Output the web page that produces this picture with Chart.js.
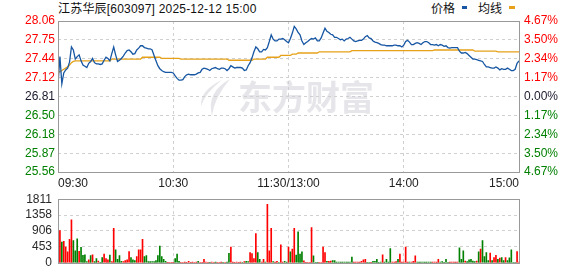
<!DOCTYPE html>
<html><head><meta charset="utf-8">
<script src="https://cdn.jsdelivr.net/npm/chart.js@4.4.1/dist/chart.umd.min.js"></script>
<style>
html,body{margin:0;padding:0;background:#fff;}
#wrap{position:relative;width:578px;height:276px;overflow:hidden;background:#fff;}
canvas{position:absolute;left:0;}
.t{position:absolute;font-size:12px;line-height:14px;font-family:'Liberation Sans','Noto Sans CJK SC',sans-serif;color:#111;white-space:nowrap;}
.m{position:absolute;height:3px;}
</style></head>
<body><div id="wrap">
<div class="t" style="left:58px;top:2px;letter-spacing:0.2px;">江苏华辰[603097] 2025-12-12 15:00</div>
<div class="t" style="left:431px;top:2px;">价格</div>
<div class="m" style="left:462px;top:6px;width:5px;background:#1656a3;"></div>
<div class="t" style="left:478px;top:2px;">均线</div>
<div class="m" style="left:509px;top:6px;width:6px;background:#e6a118;"></div>
<canvas id="pc" width="578" height="192" style="top:0"></canvas>
<canvas id="vc" width="578" height="90" style="top:186px"></canvas>
</div>
<script>
const timeTicks = ['09:30','10:30','11:30/13:00','14:00','15:00'];
const timeTickPos = [0,60,120,180,240];
const priceTicks = ['25.56','25.87','26.18','26.50','26.81','27.12','27.44','27.75','28.06'];
const pctTicks = ['4.67%','3.50%','2.34%','1.17%','0.00%','1.17%','2.34%','3.50%','4.67%'];
const volTicks = ['0','453','906','1358','1811'];
const prevClose = 26.81;

const price = [
27.00,27.47,27.02,27.20,27.25,27.28,27.38,27.63,27.58,27.43,
27.47,27.50,27.40,27.33,27.31,27.29,27.36,27.39,27.44,27.37,
27.35,27.35,27.34,27.35,27.41,27.46,27.44,27.40,27.52,27.63,
27.50,27.39,27.41,27.44,27.48,27.53,27.57,27.58,27.55,27.51,
27.52,27.58,27.61,27.65,27.65,27.62,27.61,27.60,27.60,27.58,
27.49,27.40,27.32,27.27,27.24,27.22,27.21,27.21,27.21,27.21,
27.20,27.15,27.11,27.08,27.08,27.09,27.14,27.17,27.18,27.17,
27.17,27.17,27.18,27.20,27.21,27.26,27.28,27.27,27.26,27.24,
27.27,27.28,27.29,27.27,27.26,27.28,27.28,27.27,27.24,27.27,
27.32,27.30,27.28,27.29,27.29,27.29,27.28,27.24,27.25,27.32,
27.37,27.45,27.55,27.63,27.60,27.55,27.55,27.59,27.58,27.62,
27.72,27.83,27.76,27.73,27.73,27.76,27.76,27.77,27.75,27.72,
27.70,27.77,27.86,27.97,27.93,27.87,27.83,27.73,27.67,27.70,
27.72,27.75,27.77,27.76,27.78,27.73,27.73,27.78,27.86,27.94,
27.89,27.87,27.84,27.83,27.79,27.79,27.77,27.75,27.76,27.73,
27.76,27.77,27.79,27.76,27.73,27.72,27.73,27.74,27.74,27.76,
27.80,27.82,27.78,27.77,27.73,27.71,27.70,27.69,27.67,27.66,
27.66,27.65,27.65,27.65,27.65,27.66,27.66,27.65,27.65,27.63,
27.66,27.72,27.74,27.71,27.67,27.67,27.69,27.70,27.69,27.67,
27.70,27.72,27.72,27.70,27.67,27.67,27.66,27.67,27.65,27.67,
27.66,27.64,27.65,27.62,27.61,27.62,27.62,27.62,27.62,27.56,
27.53,27.53,27.54,27.52,27.49,27.46,27.43,27.43,27.42,27.41,
27.40,27.39,27.34,27.30,27.30,27.29,27.28,27.28,27.30,27.28,
27.25,27.27,27.26,27.26,27.28,27.26,27.24,27.24,27.26,27.36,
27.40];

const avgPrice = [
27.22,27.22,27.24,27.26,27.28,27.30,27.33,27.37,27.39,27.40,
27.40,27.40,27.40,27.40,27.40,27.40,27.40,27.40,27.40,27.40,
27.40,27.40,27.40,27.40,27.40,27.40,27.40,27.40,27.43,27.43,
27.43,27.43,27.43,27.43,27.43,27.43,27.43,27.43,27.43,27.43,
27.43,27.43,27.43,27.43,27.46,27.46,27.46,27.46,27.46,27.46,
27.46,27.46,27.46,27.46,27.44,27.44,27.44,27.44,27.44,27.44,
27.44,27.44,27.44,27.44,27.43,27.43,27.43,27.43,27.43,27.43,
27.43,27.43,27.43,27.43,27.43,27.43,27.43,27.43,27.43,27.43,
27.43,27.43,27.43,27.43,27.43,27.43,27.43,27.43,27.43,27.41,
27.41,27.41,27.41,27.41,27.41,27.41,27.41,27.41,27.41,27.41,
27.41,27.41,27.43,27.43,27.43,27.43,27.43,27.43,27.43,27.46,
27.46,27.46,27.46,27.46,27.46,27.46,27.49,27.49,27.49,27.49,
27.49,27.49,27.51,27.51,27.51,27.53,27.53,27.53,27.53,27.53,
27.53,27.53,27.53,27.53,27.53,27.53,27.55,27.55,27.55,27.55,
27.55,27.55,27.55,27.55,27.55,27.55,27.55,27.55,27.55,27.55,
27.55,27.55,27.55,27.57,27.57,27.57,27.57,27.57,27.57,27.57,
27.57,27.57,27.57,27.57,27.57,27.57,27.57,27.57,27.57,27.57,
27.57,27.57,27.57,27.57,27.57,27.57,27.57,27.57,27.57,27.57,
27.57,27.57,27.57,27.57,27.57,27.57,27.57,27.57,27.57,27.57,
27.57,27.57,27.57,27.57,27.57,27.57,27.58,27.58,27.58,27.58,
27.58,27.58,27.58,27.58,27.58,27.58,27.58,27.58,27.58,27.58,
27.58,27.58,27.58,27.58,27.58,27.58,27.58,27.56,27.56,27.56,
27.56,27.56,27.56,27.56,27.56,27.56,27.56,27.56,27.56,27.55,
27.55,27.55,27.55,27.55,27.55,27.55,27.55,27.55,27.55,27.55,
27.55];

const volume = [
0,914,587,612,449,310,669,1224,636,343,
685,326,440,212,228,33,82,204,228,33,
122,49,16,147,245,122,82,220,33,979,
367,98,204,41,33,65,82,318,147,82,
65,179,367,367,669,179,204,33,33,33,
33,65,204,473,179,98,41,16,16,16,
16,122,245,41,16,16,24,16,41,16,
24,16,24,41,16,16,98,24,16,16,
24,16,24,16,16,24,16,16,24,269,
449,24,16,24,16,24,16,33,41,33,
294,261,122,832,294,98,24,98,24,1664,
343,979,33,24,41,16,514,24,41,24,
449,310,392,979,220,881,245,310,57,16,
16,16,1003,196,16,16,16,16,449,294,
41,41,49,65,65,24,24,24,24,24,
24,24,24,163,24,24,24,24,41,82,
98,16,16,16,41,41,98,16,24,228,
24,98,24,408,24,24,33,98,245,24,
24,449,24,24,24,41,196,24,24,24,
24,24,24,24,24,24,24,24,98,24,
33,16,98,16,24,24,24,24,24,424,
98,343,49,33,82,98,49,33,49,310,
392,636,179,294,65,277,65,147,212,98,
131,147,65,147,65,139,367,16,0,318,
24];

// 1 = up (red), 0 = down (green)
const volumeDir = [
1,1,0,1,1,1,1,1,0,0,
0,1,0,0,0,0,1,0,1,0,
0,1,0,0,1,1,1,0,1,1,
0,0,0,0,1,1,1,1,0,0,
0,1,1,1,1,0,0,0,0,0,
0,0,0,0,0,0,0,1,1,1,
1,0,0,0,1,1,1,1,1,1,
1,1,1,0,1,1,1,1,1,0,
1,1,0,1,1,1,0,1,0,0,
1,1,1,1,1,1,0,1,0,0,
1,1,1,1,0,0,1,1,0,1,
1,1,0,1,1,0,1,1,0,0,
1,0,1,1,0,0,0,0,1,1,
1,1,1,0,0,0,1,1,1,1,
0,1,1,0,0,0,0,0,0,0,
0,0,0,0,1,1,1,1,1,1,
1,0,0,1,0,0,0,0,0,1,
0,0,0,0,1,1,1,0,1,1,
1,1,1,0,1,1,1,0,0,0,
0,0,0,0,0,1,1,1,1,0,
0,0,0,0,1,1,1,1,1,0,
0,0,1,0,0,0,0,0,1,0,
1,0,0,0,0,1,0,1,1,0,
1,0,0,1,0,0,0,0,0,1,
1];

Chart.defaults.font.family = "'Liberation Sans', Arial, sans-serif";
Chart.defaults.font.size = 12;

const RED = '#ff0000', GREEN = '#008000', DARK = '#1a1a2e';
const gridCol = '#d0d0d0';

const framePlugin = {
  id: 'frame',
  afterDraw(chart) {
    const a = chart.chartArea, c = chart.ctx;
    c.save();
    c.strokeStyle = '#999';
    c.lineWidth = 1;
    c.strokeRect(Math.round(a.left) + 0.5, Math.round(a.top) + 0.5,
      Math.round(a.right - a.left), Math.round(a.bottom - a.top));
    c.restore();
  }
};
const watermarkPlugin = {
  id: 'watermark',
  beforeDraw(chart) {
    const c = chart.ctx;
    c.save();
    c.fillStyle = '#e6e6ea';
    c.font = "bold 34px 'Noto Sans CJK SC'";
    c.textBaseline = 'middle';
    c.fillText('东方财富', 238, 97);
    c.beginPath();
    c.moveTo(230, 79);
    c.quadraticCurveTo(206, 92, 212, 116);
    c.quadraticCurveTo(214, 98, 230, 79);
    c.fill();
    c.beginPath();
    c.moveTo(222, 80);
    c.quadraticCurveTo(200, 90, 201, 106);
    c.quadraticCurveTo(206, 92, 222, 80);
    c.fill();
    c.restore();
  }
};

const xy = arr => arr.map((v, i) => ({x: i, y: v}));
const priceVals = priceTicks.map(parseFloat);

new Chart(document.getElementById('pc'), {
  type: 'line',
  data: {
    datasets: [
      {data: xy(price), borderColor: '#1656a3', borderWidth: 1.3, pointRadius: 0, tension: 0},
      {data: xy(avgPrice), borderColor: '#e6a118', borderWidth: 1.3, pointRadius: 0, tension: 0}
    ]
  },
  options: {
    responsive: false, animation: false, events: [],
    layout: {padding: {top: 21, left: 0, right: 0, bottom: 0}},
    plugins: {legend: {display: false}, tooltip: {enabled: false}},
    scales: {
      x: {
        type: 'linear', min: 0, max: 240,
        afterBuildTicks: s => { s.ticks = timeTickPos.map(v => ({value: v})); },
        afterFit: s => { s.height = 20; },
        ticks: {callback: (v, i) => timeTicks[i], align: 'inner', maxRotation: 0, autoSkip: false, padding: 4, color: '#222'},
        grid: {color: gridCol, drawTicks: false},
        border: {display: false, dash: [3, 3]}
      },
      y: {
        position: 'left', min: 25.56, max: 28.06,
        afterBuildTicks: s => { s.ticks = priceVals.map(v => ({value: v})); },
        afterFit: s => { s.width = 58; },
        ticks: {
          callback: (v, i) => priceTicks[i], autoSkip: false, padding: 3,
          color: ctx => ctx.index > 4 ? RED : (ctx.index === 4 ? DARK : GREEN)
        },
        grid: {color: gridCol, drawTicks: false},
        border: {display: false, dash: [3, 3]}
      },
      y2: {
        position: 'right', min: 25.56, max: 28.06,
        afterBuildTicks: s => { s.ticks = priceVals.map(v => ({value: v})); },
        afterFit: s => { s.width = 59; },
        ticks: {
          callback: (v, i) => pctTicks[i], autoSkip: false, padding: 5,
          color: ctx => ctx.index > 4 ? RED : (ctx.index === 4 ? DARK : GREEN)
        },
        grid: {display: false, drawTicks: false},
        border: {display: false}
      }
    }
  },
  plugins: [watermarkPlugin, framePlugin]
});

const volVals = volTicks.map(parseFloat);
new Chart(document.getElementById('vc'), {
  type: 'bar',
  data: {
    datasets: [{
      data: xy(volume),
      backgroundColor: volumeDir.map(d => d ? RED : GREEN),
      barThickness: 1, borderWidth: 0, grouped: false
    }]
  },
  options: {
    responsive: false, animation: false, events: [],
    layout: {padding: {top: 10, left: 0, right: 59, bottom: 6}},
    plugins: {legend: {display: false}, tooltip: {enabled: false}},
    scales: {
      x: {
        type: 'linear', min: 0, max: 240, offset: false,
        afterBuildTicks: s => { s.ticks = timeTickPos.map(v => ({value: v})); },
        afterFit: s => { s.height = 0; },
        ticks: {display: false},
        grid: {color: gridCol, drawTicks: false, offset: false},
        border: {display: false, dash: [3, 3]}
      },
      y: {
        position: 'left', min: 0, max: 1811,
        afterBuildTicks: s => { s.ticks = volVals.map(v => ({value: v})); },
        afterFit: s => { s.width = 58; },
        ticks: {callback: (v, i) => volTicks[i], autoSkip: false, padding: 6, color: '#2a2a2a'},
        grid: {color: gridCol, drawTicks: false},
        border: {display: false, dash: [3, 3]}
      }
    }
  },
  plugins: [framePlugin]
});
</script>
</body></html>
